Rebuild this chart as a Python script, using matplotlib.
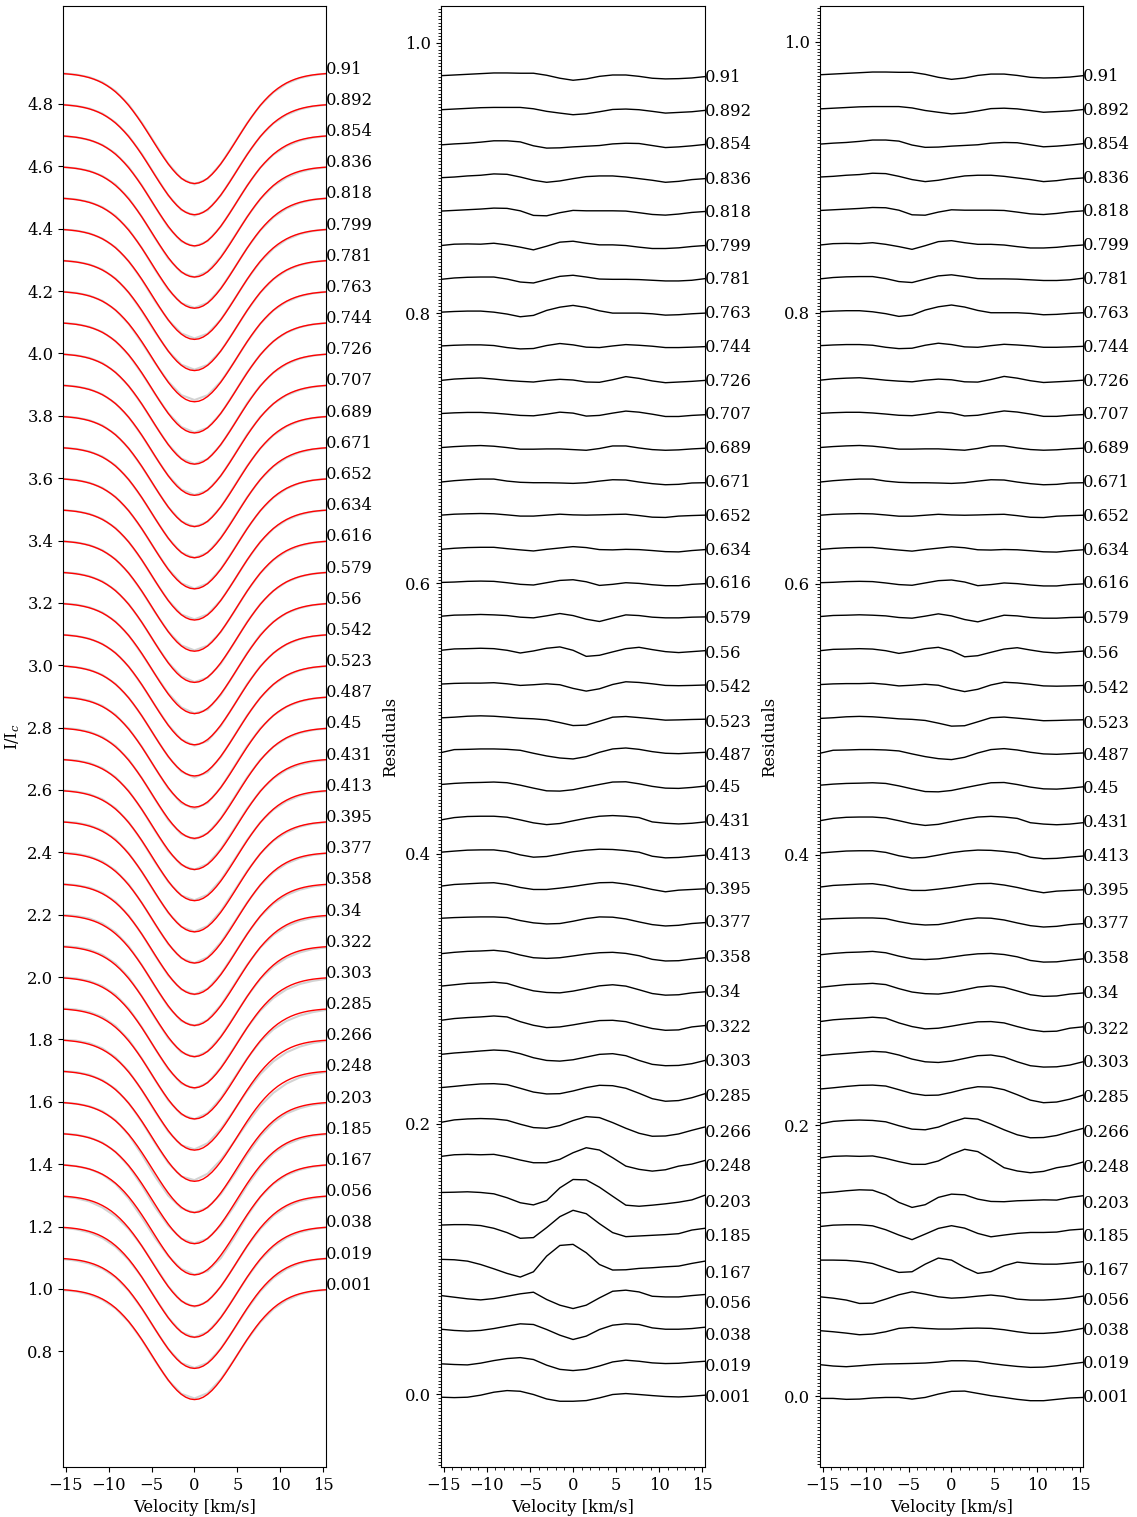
import numpy as np
import matplotlib
matplotlib.use("Agg")
import matplotlib.pyplot as plt
from matplotlib.ticker import AutoMinorLocator, MultipleLocator

plt.rcParams['font.family'] = 'DejaVu Serif'
plt.rcParams['mathtext.fontset'] = 'dejavuserif'
plt.rcParams['font.size'] = 11.8

# rotational phases, bottom to top
phases = ['0.001', '0.019', '0.038', '0.056', '0.167', '0.185', '0.203', '0.248',
          '0.266', '0.285', '0.303', '0.322', '0.34', '0.358', '0.377', '0.395',
          '0.413', '0.431', '0.45', '0.487', '0.523', '0.542', '0.56', '0.579',
          '0.616', '0.634', '0.652', '0.671', '0.689', '0.707', '0.726', '0.744',
          '0.763', '0.781', '0.799', '0.818', '0.836', '0.854', '0.892', '0.91']

v_lim = 15.3
vel = np.linspace(-v_lim, v_lim, 61)      # model sampling
vel_res = vel[::3]                         # residual sampling (21 points)

# model line profile I/Ic, from line centre outwards
model_half = [0.6450, 0.6469, 0.6526, 0.6619, 0.6745, 0.6900, 0.7079, 0.7278,
              0.7490, 0.7711, 0.7935, 0.8157, 0.8373, 0.8579, 0.8772, 0.8951,
              0.9113, 0.9258, 0.9386, 0.9498, 0.9593, 0.9674, 0.9742, 0.9798,
              0.9843, 0.9880, 0.9909, 0.9932, 0.9949, 0.9963, 0.9973]
model = np.r_[model_half[:0:-1], model_half]

# residuals (units of 1e-3), model 1, one row per phase
resid_mid = [
    [-2.2, -2.5, -2.2, -0.7, 1.5, 2.7, 2.2, -0.2, -3.5, -5.2, -5.2, -4.7, -2.7, -0.2, 0.5, -0.2, -1.0, -1.7, -2.0, -1.5, -0.7],
    [-2.5, -3.0, -3.3, -2.0, -0.1, 1.4, 2.1, 0.7, -3.5, -6.6, -7.5, -6.6, -4.1, -1.1, 0.2, -0.6, -1.8, -2.3, -2.1, -1.3, -0.6],
    [-1.9, -2.8, -3.3, -2.8, -1.4, 0.4, 2.1, 1.6, -2.1, -6.3, -9.5, -7.0, -2.1, 1.1, 2.1, 1.6, -0.9, -1.9, -1.9, -1.4, -0.4],
    [-2.0, -3.2, -4.4, -5.2, -4.2, -2.5, -0.7, 0.5, -4.9, -9.1, -11.6, -9.1, -3.7, 1.2, 2.0, 0.7, -2.5, -3.0, -3.0, -2.0, -1.2],
    [-0.2, -0.5, -1.5, -4.0, -7.2, -10.6, -13.3, -9.4, 2.2, 10.1, 10.9, 4.7, -4.0, -8.1, -7.9, -6.9, -6.4, -5.7, -5.2, -3.2, -1.5],
    [0.2, 0.5, 0.5, -0.2, -2.2, -5.4, -9.6, -9.1, -1.7, 6.4, 11.1, 8.6, 1.2, -5.4, -8.4, -7.9, -7.4, -6.9, -6.2, -3.5, -2.2],
    [-0.7, -0.5, -0.2, -0.7, -1.7, -4.6, -8.3, -9.9, -6.7, 2.7, 8.9, 8.6, 3.2, -3.5, -10.1, -10.9, -10.1, -9.1, -7.9, -6.2, -2.7],
    [1.0, 2.2, 2.5, 2.2, 2.5, 0.7, -1.7, -3.7, -3.7, -1.2, 3.7, 7.4, 5.7, 0.0, -6.2, -8.6, -9.9, -8.9, -6.2, -4.7, -2.0],
    [1.2, 3.0, 3.7, 4.0, 3.7, 2.7, -0.2, -2.7, -3.2, -1.2, 2.5, 5.4, 4.7, 1.0, -3.2, -6.9, -9.1, -8.9, -7.4, -4.7, -2.2],
    [1.9, 2.8, 3.8, 4.6, 4.8, 4.1, 1.4, -1.4, -2.8, -2.6, -0.6, 1.9, 3.6, 3.3, 1.4, -2.3, -6.3, -8.2, -7.7, -5.6, -2.6],
    [1.5, 2.5, 3.2, 4.0, 4.7, 4.2, 2.0, -1.0, -3.0, -3.5, -2.5, -0.5, 1.5, 2.0, 0.5, -3.0, -5.9, -6.9, -6.7, -5.4, -3.0],
    [1.7, 3.0, 3.7, 4.2, 4.9, 4.2, 0.7, -2.0, -3.7, -3.2, -1.7, 0.0, 1.5, 1.7, 0.7, -2.0, -4.4, -5.7, -5.4, -3.2, -2.2],
    [2.0, 3.0, 4.0, 4.4, 4.9, 4.0, 1.0, -1.5, -2.7, -3.0, -1.7, 0.2, 2.2, 3.0, 2.0, -0.7, -3.5, -4.7, -4.4, -3.0, -2.2],
    [1.0, 2.0, 2.7, 3.0, 3.5, 2.5, 0.0, -2.0, -2.5, -2.0, -0.7, 0.7, 1.7, 2.0, 1.2, -0.5, -3.2, -4.4, -4.2, -3.0, -2.0],
    [2.2, 2.7, 3.0, 3.2, 3.2, 2.7, 0.5, -1.2, -2.0, -1.7, 0.0, 2.0, 3.2, 3.0, 1.7, -0.5, -2.5, -3.5, -3.0, -1.7, -1.0],
    [1.0, 2.2, 2.7, 3.2, 3.5, 2.2, 0.0, -1.5, -1.5, -0.5, 0.7, 2.2, 3.5, 3.7, 2.5, 0.7, -1.5, -3.2, -2.0, -1.5, -1.0],
    [1.1, 1.9, 2.6, 2.8, 2.8, 1.6, -0.9, -2.6, -2.1, -0.4, 1.4, 2.6, 3.3, 3.1, 2.3, 1.1, -1.9, -3.1, -2.8, -1.9, -1.1],
    [0.0, 1.7, 2.5, 2.7, 2.7, 2.0, 0.0, -2.2, -3.5, -2.7, -0.7, 1.2, 2.7, 3.2, 2.7, 1.7, -1.5, -2.5, -3.0, -2.5, -1.5],
    [1.2, 2.0, 2.5, 2.7, 3.0, 2.5, 0.7, -1.5, -3.5, -3.7, -2.7, -0.7, 1.2, 3.0, 3.2, 1.7, -0.2, -1.5, -1.7, -1.0, 0.0],
    [-0.2, 2.0, 2.2, 2.5, 2.5, 2.2, 1.5, -0.7, -2.7, -4.2, -4.9, -3.2, 0.0, 2.5, 3.2, 2.2, 0.5, -0.7, -1.0, -0.5, 0.0],
    [0.5, 1.0, 1.7, 2.0, 1.7, 1.0, 0.2, -0.2, -1.0, -3.0, -5.2, -4.9, -2.0, 1.0, 1.5, 0.7, -0.2, -1.2, -1.0, -0.7, -0.5],
    [0.5, 1.0, 1.2, 1.2, 1.5, 0.7, -0.5, 0.0, 0.7, 0.0, -2.7, -4.7, -3.0, 0.2, 2.2, 1.7, 0.7, -0.5, -0.7, -0.5, -0.2],
    [0.5, 1.5, 1.7, 2.0, 1.7, 0.5, -1.5, 0.0, 2.0, 3.0, 0.5, -4.0, -3.2, -0.7, 1.7, 2.7, 1.0, -0.5, -1.2, -0.5, 0.2],
    [0.7, 1.5, 1.7, 2.0, 1.7, 1.2, 0.0, -0.5, 1.0, 2.7, 1.2, -1.5, -3.2, -0.7, 1.7, 1.2, 0.0, -0.5, -0.5, 0.0, 0.2],
    [0.7, 1.0, 1.5, 1.7, 1.5, 0.5, -0.7, -1.2, 0.5, 2.2, 2.7, 1.2, -1.5, -0.7, 0.5, 0.0, -1.0, -1.7, -1.7, -0.7, -0.2],
    [0.2, 1.0, 1.5, 1.7, 1.7, 0.7, -0.2, -1.0, 0.2, 1.2, 2.2, 1.5, 0.0, -0.2, 0.2, 0.0, -0.7, -1.5, -1.7, -0.7, 0.0],
    [0.5, 1.2, 1.5, 1.7, 1.5, 0.7, -0.2, -0.2, 0.5, 1.2, 0.7, 0.5, 0.7, 1.0, 1.2, 0.2, -1.0, -1.2, -0.2, 0.2, 0.5],
    [0.0, 1.0, 1.7, 2.2, 2.2, 0.7, -0.2, -0.5, -0.5, -0.7, -1.0, -0.5, 0.7, 1.7, 1.5, 0.0, -1.2, -2.0, -1.7, -0.7, -0.5],
    [0.5, 1.2, 1.7, 2.0, 1.5, 0.5, -0.7, -0.7, -0.5, -0.5, -1.0, -1.5, -0.2, 1.7, 1.7, 0.2, -1.0, -1.5, -1.2, -0.5, 0.0],
    [0.7, 1.2, 1.5, 1.5, 1.0, 0.2, -0.7, -1.0, 0.2, 1.7, 1.0, -1.2, -0.7, 1.0, 2.5, 1.7, 0.2, -1.5, -1.5, -0.7, -0.2],
    [0.2, 1.2, 1.7, 2.0, 1.2, 0.2, -0.5, -1.0, 0.2, 1.0, 0.5, -1.0, -1.2, 0.7, 3.0, 1.7, -0.2, -1.5, -1.0, -0.5, 0.2],
    [0.7, 1.2, 1.5, 1.5, 1.0, -0.5, -1.5, -1.2, 1.0, 2.5, 1.5, -0.2, -0.5, 0.7, 1.7, 1.2, 0.5, -0.5, -0.5, -0.2, 0.2],
    [0.7, 1.2, 1.5, 1.5, 0.7, -0.7, -2.7, -1.7, 2.0, 4.4, 5.7, 4.2, 1.7, 0.0, 0.0, 0.0, -0.5, -1.5, -1.2, -0.5, 0.0],
    [0.0, 1.0, 1.5, 1.7, 1.7, 0.2, -2.0, -2.7, -0.2, 2.2, 3.0, 1.7, 0.2, 0.0, 0.0, -0.2, -0.7, -1.2, -1.2, -0.7, 0.5],
    [0.0, 1.0, 1.2, 1.0, 1.7, 0.5, -1.2, -3.2, -0.5, 2.5, 3.2, 1.7, 0.5, 0.5, 0.0, -1.2, -2.2, -2.2, -1.7, -0.7, 0.0],
    [0.5, 1.0, 1.5, 2.0, 2.7, 2.5, 0.7, -2.7, -3.0, -0.7, 1.0, 0.7, 0.7, 0.7, 0.5, -0.7, -2.0, -2.5, -1.7, -0.5, 0.2],
    [0.2, 0.7, 1.5, 2.0, 3.0, 2.7, 0.7, -1.7, -3.2, -2.2, -0.5, 1.0, 1.5, 1.5, 0.7, -0.5, -1.7, -3.2, -2.5, -1.2, -0.5],
    [-0.5, 0.2, 0.7, 1.5, 2.5, 2.5, 1.7, -1.2, -2.9, -2.7, -2.0, -1.5, -1.0, 0.2, 0.7, 0.5, -1.0, -2.5, -2.0, -1.2, -0.2],
    [0.5, 1.0, 1.5, 2.0, 2.2, 2.2, 2.2, 1.2, -0.7, -2.0, -3.2, -2.5, -1.0, 0.7, 1.0, 0.5, -0.7, -2.0, -1.5, -1.0, 0.0],
    [0.7, 1.2, 1.7, 2.2, 2.7, 2.7, 2.5, 2.5, 1.0, -1.2, -2.7, -1.7, 0.2, 1.2, 1.2, 0.2, -1.2, -1.7, -1.5, -1.0, 0.0],
]

# residuals of model 2 for the seven lowest phases (higher phases as model 1)
resid_right_low = [
    [-1.5, -1.5, -2.2, -2.0, -1.2, -0.8, -0.8, -2.0, -0.8, 1.7, 3.7, 3.9, 2.2, 0.5, -0.8, -2.2, -3.2, -3.2, -2.2, -1.2, -0.8],
    [-1.6, -2.6, -3.1, -2.4, -1.6, -1.1, -0.9, -0.7, -0.4, 0.3, 1.3, 1.3, 0.8, -0.7, -1.9, -2.9, -3.6, -3.4, -2.4, -1.1, 0.1],
    [-1.5, -2.3, -3.3, -4.5, -4.0, -2.3, 0.2, 0.9, 0.2, -0.3, -0.3, 0.2, 0.4, 0.2, -0.8, -2.3, -3.5, -3.5, -2.8, -1.5, 0.2],
    [-1.5, -2.5, -3.9, -6.4, -6.2, -3.2, 0.0, 2.2, 0.5, -1.5, -2.5, -2.0, -1.0, -0.2, -1.2, -3.2, -3.9, -3.9, -3.4, -2.5, -1.0],
    [0.6, 0.6, 0.4, -0.4, -1.9, -5.3, -8.5, -8.0, -2.4, 2.1, 0.6, -4.8, -9.2, -7.9, -3.6, -0.9, -1.9, -2.4, -2.4, -1.6, -0.6],
    [0.4, 1.4, 1.7, 1.7, 0.9, -2.0, -5.9, -9.3, -5.2, -1.0, 1.0, -0.8, -4.7, -7.2, -5.9, -4.7, -4.0, -4.0, -3.7, -2.2, -1.5],
    [0.1, 0.8, 1.8, 2.5, 2.2, -1.2, -6.8, -10.5, -8.5, -3.1, -0.7, -1.2, -4.4, -6.1, -6.3, -5.6, -5.3, -4.9, -5.1, -3.1, -1.9],
]

# level of the phase label at the right edge (units of 1e-3)
label_mid = [-2.6, -4.7, -6.9, -7.8, -10.5, -8.4, -8.2, -6.7, -6.4, -4.9, -4.0, -3.8,
             -2.6, -1.8, -0.9, -1.6, -1.1, -1.1, -1.1, -2.1, -3.1, -2.1, -1.6, -0.9,
             -0.1, -0.4, -0.4, -0.6, -0.4, -0.1, -0.9, -0.6, -0.4, -0.1, -0.6, -0.6,
             -1.1, -0.6, -0.6, -0.4]
label_right_low = [-0.6, -1.0, -1.4, -4.3, -7.1, -7.0, -7.9, -6.1, -5.5, -4.2, -3.4]

resid_right = resid_right_low + resid_mid[len(resid_right_low):]
label_right = label_right_low + label_mid[len(label_right_low):]

prof_step = 0.1
res_step = 0.025

fig = plt.figure(figsize=(11.37, 15.17), dpi=100)
ax1 = fig.add_axes([0.0554, 0.033, 0.2313, 0.963])
ax2 = fig.add_axes([0.3879, 0.033, 0.2322, 0.963])
ax3 = fig.add_axes([0.7212, 0.033, 0.2313, 0.963])

# left: observed (grey) and model (red) profiles
for i, ph in enumerate(phases):
    off = i * prof_step
    obs = model[::3] + np.array(resid_right[i]) * 1e-3
    ax1.plot(vel_res, obs + off, color='lightgrey', lw=1.5)
    ax1.plot(vel, model + off, color='red', lw=1.0)
    ax1.text(v_lim, model[-1] + off, ph, ha='left', va='baseline')

ax1.set_xlim(-v_lim, v_lim)
ax1.set_ylim(0.429, 5.114)
ax1.set_yticks(np.arange(0.8, 4.81, 0.2))
ax1.set_xticks([-15, -10, -5, 0, 5, 10, 15])
ax1.set_ylabel(r'I/I$_c$')
ax1.set_xlabel('Velocity [km/s]')

# residual panels
for ax, res, lab, ylim in [(ax2, resid_mid, label_mid, (-0.0538, 1.0272)),
                           (ax3, resid_right, label_right, (-0.0521, 1.0264))]:
    for i, ph in enumerate(phases):
        off = i * res_step
        ax.plot(vel_res, np.array(res[i]) * 1e-3 + off, color='black', lw=1.0)
        ax.text(v_lim, off + lab[i] * 1e-3, ph, ha='left', va='center')
    ax.set_xlim(-v_lim, v_lim)
    ax.set_ylim(*ylim)
    ax.set_xticks([-15, -10, -5, 0, 5, 10, 15])
    ax.xaxis.set_minor_locator(AutoMinorLocator())
    ax.yaxis.set_minor_locator(MultipleLocator(0.0025))
    ax.set_ylabel('Residuals')
    ax.set_xlabel('Velocity [km/s]')

fig.savefig('out.png', dpi=100)
